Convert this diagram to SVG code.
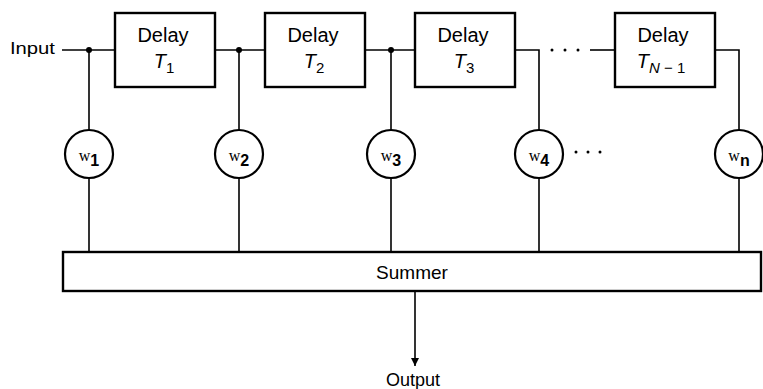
<svg xmlns="http://www.w3.org/2000/svg" width="763" height="389" viewBox="0 0 763 389">
<style>
text{font-family:"Liberation Sans",Arial,sans-serif;fill:#000}
.box{fill:#fff;stroke:#000;stroke-width:2.4}
.circ{fill:#fff;stroke:#000;stroke-width:2.2}
.wire{fill:none;stroke:#000;stroke-width:1.6}
.dly{font-size:20px}
.it{font-style:italic}
.sub{font-size:15px}
.w{font-family:"Liberation Serif","Times New Roman",serif;font-size:16px}
.wsub{font-size:16px;font-weight:bold}
.dot{fill:#000}
</style>
<defs>
<marker id="arr" viewBox="0 0 8 18" refX="8" refY="9" markerWidth="8" markerHeight="18" markerUnits="userSpaceOnUse" orient="auto">
<path d="M0,5 L8,9 L0,13 Z" fill="#000"/>
</marker>
</defs>
<g id="connectors">
<path class="wire" d="M62,50 H115"/>
<path class="wire" d="M215,50 H265"/>
<path class="wire" d="M365,50 H415"/>
<path class="wire" d="M515,50 H539 V130"/>
<path class="wire" d="M590,50 H615"/>
<path class="wire" d="M715,50 H739 V130"/>
<path class="wire" d="M89,50 V130"/>
<path class="wire" d="M239,50 V130"/>
<path class="wire" d="M391,50 V130"/>
<path class="wire" d="M89,178 V252"/>
<path class="wire" d="M239,178 V252"/>
<path class="wire" d="M391,178 V252"/>
<path class="wire" d="M539,178 V252"/>
<path class="wire" d="M739,178 V252"/>
<path class="wire" d="M415,291 V366" marker-end="url(#arr)"/>
<circle class="dot" cx="89" cy="50" r="3"/>
<circle class="dot" cx="239" cy="50" r="3"/>
<circle class="dot" cx="391" cy="50" r="3"/>
<circle class="dot" cx="552" cy="50" r="1.5"/>
<circle class="dot" cx="565" cy="50" r="1.5"/>
<circle class="dot" cx="578" cy="50" r="1.5"/>
<circle class="dot" cx="576" cy="152" r="1.5"/>
<circle class="dot" cx="588" cy="152" r="1.5"/>
<circle class="dot" cx="600" cy="152" r="1.5"/>
</g>
<g id="input">
<text x="10" y="54" font-size="16" textLength="45" lengthAdjust="spacingAndGlyphs">Input</text>
</g>
<g id="delay1">
<rect class="box" x="115" y="13" width="100" height="74"/>
<text class="dly" x="163" y="42" text-anchor="middle">Delay</text>
<text x="164" y="68" text-anchor="middle"><tspan class="it" font-size="20">T</tspan><tspan class="sub" dy="5">1</tspan></text>
</g>
<g id="delay2">
<rect class="box" x="265" y="13" width="100" height="74"/>
<text class="dly" x="313" y="42" text-anchor="middle">Delay</text>
<text x="314" y="68" text-anchor="middle"><tspan class="it" font-size="20">T</tspan><tspan class="sub" dy="5">2</tspan></text>
</g>
<g id="delay3">
<rect class="box" x="415" y="13" width="100" height="74"/>
<text class="dly" x="463" y="42" text-anchor="middle">Delay</text>
<text x="464" y="68" text-anchor="middle"><tspan class="it" font-size="20">T</tspan><tspan class="sub" dy="5">3</tspan></text>
</g>
<g id="delayN1">
<rect class="box" x="615" y="13" width="100" height="74"/>
<text class="dly" x="663" y="42" text-anchor="middle">Delay</text>
<text x="661" y="68" text-anchor="middle"><tspan class="it" font-size="20">T</tspan><tspan class="sub it" dy="5">N</tspan><tspan class="sub"> − 1</tspan></text>
</g>
<g id="w1">
<circle class="circ" cx="89" cy="154" r="24"/>
<text x="89" y="161" text-anchor="middle"><tspan class="w">w</tspan><tspan class="wsub" dy="5">1</tspan></text>
</g>
<g id="w2">
<circle class="circ" cx="239" cy="154" r="24"/>
<text x="239" y="161" text-anchor="middle"><tspan class="w">w</tspan><tspan class="wsub" dy="5">2</tspan></text>
</g>
<g id="w3">
<circle class="circ" cx="391" cy="154" r="24"/>
<text x="391" y="161" text-anchor="middle"><tspan class="w">w</tspan><tspan class="wsub" dy="5">3</tspan></text>
</g>
<g id="w4">
<circle class="circ" cx="539" cy="154" r="24"/>
<text x="539" y="161" text-anchor="middle"><tspan class="w">w</tspan><tspan class="wsub" dy="5">4</tspan></text>
</g>
<g id="wn">
<circle class="circ" cx="739" cy="154" r="24"/>
<text x="739" y="161" text-anchor="middle"><tspan class="w">w</tspan><tspan class="wsub" dy="5">n</tspan></text>
</g>
<g id="summer">
<rect class="box" x="63" y="252" width="698" height="39"/>
<text x="412" y="279" font-size="19" text-anchor="middle">Summer</text>
</g>
<g id="output">
<text x="413" y="386" font-size="18" text-anchor="middle">Output</text>
</g>
</svg>
